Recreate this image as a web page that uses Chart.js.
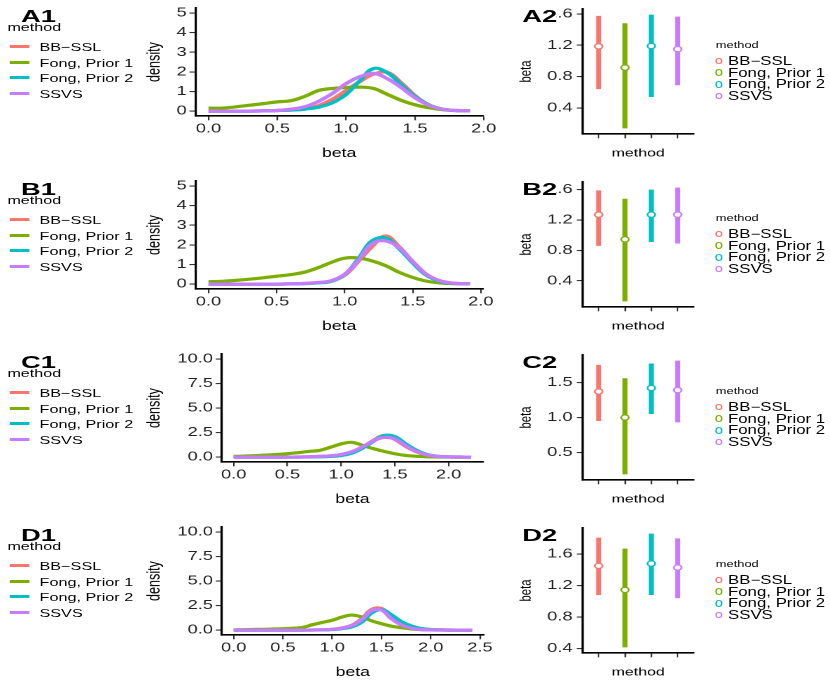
<!DOCTYPE html>
<html>
<head>
<meta charset="utf-8">
<script src="https://cdn.jsdelivr.net/npm/chart.js@4.4.0/dist/chart.umd.min.js"></script>
<style>
html, body { margin: 0; padding: 0; background: #fff; overflow: hidden; width: 830px; height: 692px; }
#fig { position: absolute; left: 0; top: 0; width: 593px; height: 692px; transform: scaleX(1.4); transform-origin: 0 0;
       font-family: "Liberation Sans", Arial, sans-serif; color: #000; }
#fig canvas, .txt, .mark { position: absolute; }
.txt { white-space: nowrap; }
.tag { transform: scaleX(1.15); transform-origin: 0 0; overflow: visible; }
</style>
</head>
<body>
<div id="fig"></div>
<script>
var S = 1.4;      // the figure is stretched sideways
var ROW = 173;
var COLORS = ['#F8766D', '#7CAE00', '#00BFC4', '#C77CFF'];
var methods = ['BB\u2212SSL', 'Fong, Prior 1', 'Fong, Prior 2', 'SSVS'];

// density curves, panel A1
var aBeta  = [0, 0.1, 0.2, 0.3, 0.4, 0.5, 0.6, 0.7, 0.8, 0.9, 1.0, 1.1, 1.2, 1.3, 1.4, 1.5, 1.6, 1.7, 1.8, 1.9];
var aBBSSL = [0, 0, 0, 0, 0.01, 0.03, 0.06, 0.1, 0.28, 0.6, 1.05, 1.5, 1.88, 1.97, 1.45, 0.8, 0.32, 0.1, 0.03, 0.01];
var aFong1 = [0.15, 0.15, 0.22, 0.3, 0.38, 0.47, 0.53, 0.75, 1.05, 1.15, 1.2, 1.22, 1.15, 0.85, 0.55, 0.32, 0.17, 0.07, 0.02, 0.01];
var aFong2 = [0, 0, 0, 0, 0.01, 0.03, 0.05, 0.1, 0.2, 0.42, 0.85, 1.55, 2.17, 1.95, 1.35, 0.75, 0.32, 0.1, 0.03, 0.01];
var aSSVS  = [0, 0, 0, 0, 0.01, 0.03, 0.1, 0.22, 0.5, 0.9, 1.4, 1.75, 1.92, 1.65, 1.2, 0.68, 0.3, 0.1, 0.03, 0.01];

// panel B1
var bBeta  = [0, 0.1, 0.2, 0.3, 0.4, 0.5, 0.6, 0.7, 0.8, 0.9, 1.0, 1.1, 1.2, 1.3, 1.4, 1.5, 1.6, 1.7, 1.8, 1.92];
var bBBSSL = [0, 0, 0, 0, 0, 0, 0.01, 0.03, 0.07, 0.15, 0.45, 1.15, 1.9, 2.45, 1.9, 1.15, 0.5, 0.16, 0.04, 0.01];
var bFong1 = [0.12, 0.14, 0.19, 0.25, 0.32, 0.4, 0.48, 0.6, 0.82, 1.1, 1.32, 1.33, 1.18, 0.94, 0.6, 0.34, 0.15, 0.06, 0.02, 0.01];
var bFong2 = [0, 0, 0, 0, 0, 0, 0.01, 0.02, 0.06, 0.14, 0.48, 1.28, 2.2, 2.35, 1.8, 1.08, 0.45, 0.14, 0.04, 0.01];
var bSSVS  = [0, 0, 0, 0, 0, 0, 0.01, 0.03, 0.08, 0.17, 0.5, 1.2, 2.05, 2.2, 1.85, 1.15, 0.5, 0.17, 0.05, 0.01];

// panel C1
var cBeta  = [0, 0.1, 0.2, 0.3, 0.4, 0.5, 0.6, 0.7, 0.8, 0.9, 1.0, 1.1, 1.2, 1.3, 1.4, 1.5, 1.6, 1.7, 1.8, 1.9, 2.0, 2.1, 2.21];
var cBBSSL = [0, 0, 0, 0, 0, 0, 0.01, 0.03, 0.06, 0.12, 0.25, 0.52, 1.0, 1.7, 2.2, 1.8, 1.1, 0.55, 0.22, 0.07, 0.02, 0.01, 0];
var cFong1 = [0.07, 0.1, 0.15, 0.2, 0.27, 0.34, 0.45, 0.58, 0.68, 1.0, 1.34, 1.5, 1.2, 0.86, 0.58, 0.34, 0.17, 0.08, 0.03, 0.01, 0, 0, 0];
var cFong2 = [0, 0, 0, 0, 0, 0, 0, 0.01, 0.03, 0.07, 0.16, 0.4, 0.9, 1.6, 2.2, 2.1, 1.35, 0.7, 0.26, 0.08, 0.02, 0.01, 0];
var cSSVS  = [0, 0, 0, 0, 0, 0, 0.01, 0.03, 0.07, 0.13, 0.26, 0.55, 1.05, 1.65, 2.0, 1.85, 1.15, 0.58, 0.22, 0.07, 0.02, 0.01, 0];

// panel D1
var dBeta  = [0, 0.1, 0.2, 0.3, 0.4, 0.5, 0.6, 0.7, 0.8, 0.9, 1.0, 1.1, 1.2, 1.3, 1.4, 1.5, 1.6, 1.7, 1.8, 1.9, 2.0, 2.1, 2.2, 2.3, 2.42];
var dBBSSL = [0, 0, 0, 0, 0, 0, 0, 0, 0.01, 0.03, 0.08, 0.22, 0.5, 1.15, 2.1, 2.2, 1.4, 0.78, 0.37, 0.14, 0.05, 0.02, 0.01, 0, 0];
var dFong1 = [0.03, 0.04, 0.06, 0.08, 0.11, 0.14, 0.19, 0.27, 0.55, 0.78, 1.0, 1.33, 1.53, 1.33, 0.95, 0.65, 0.4, 0.24, 0.12, 0.05, 0.02, 0.01, 0, 0, 0];
var dFong2 = [0, 0, 0, 0, 0, 0, 0, 0, 0.01, 0.02, 0.06, 0.15, 0.32, 0.8, 1.73, 2.1, 1.56, 0.88, 0.44, 0.17, 0.06, 0.02, 0.01, 0, 0];
var dSSVS  = [0, 0, 0, 0, 0, 0, 0, 0, 0.01, 0.03, 0.08, 0.2, 0.45, 1.05, 1.97, 2.05, 1.16, 0.54, 0.2, 0.06, 0.02, 0.01, 0, 0, 0];

// interval panels (A2..D2): lower end, point estimate, upper end per method
var aLow = [0.64, 0.14, 0.54, 0.69];
var aMid = [1.185, 0.915, 1.19, 1.15];
var aHigh = [1.575, 1.48, 1.59, 1.565];
var bLow = [0.86, 0.13, 0.91, 0.89];
var bMid = [1.27, 0.945, 1.27, 1.27];
var bHigh = [1.59, 1.48, 1.60, 1.625];
var cLow = [0.95, 0.19, 1.05, 0.93];
var cMid = [1.37, 1.0, 1.42, 1.39];
var cHigh = [1.75, 1.56, 1.77, 1.81];
var dLow = [1.08, 0.415, 1.08, 1.04];
var dMid = [1.45, 1.145, 1.48, 1.43];
var dHigh = [1.81, 1.67, 1.86, 1.80];

// tick values
var betaTicks2 = [0, 0.5, 1.0, 1.5, 2.0];
var betaTicks25 = [0, 0.5, 1.0, 1.5, 2.0, 2.5];
var densTicks5 = [0, 1, 2, 3, 4, 5];
var densTicks10 = [0, 2.5, 5, 7.5, 10];
var betaTicks04 = [0.4, 0.8, 1.2, 1.6];
var betaTicks05 = [0.5, 1.0, 1.5];

var fig = document.getElementById('fig');
Chart.defaults.font.family = '"Liberation Sans", Arial, sans-serif';

function addText(str, left, cy, size, bold) {
    var d = document.createElement('div');
    d.className = 'txt';
    d.textContent = str;
    d.style.left = left + 'px';
    d.style.top = (cy - size / 2) + 'px';
    d.style.fontSize = size + 'px';
    d.style.lineHeight = size + 'px';
    if (bold) d.style.fontWeight = 'bold';
    fig.appendChild(d);
    return d;
}

function addMark(css) {
    var m = document.createElement('div');
    m.className = 'mark';
    m.style.cssText = css;
    fig.appendChild(m);
}

function makeCanvas(left, top, w, h) {
    var cv = document.createElement('canvas');
    cv.width = w;
    cv.height = h;
    cv.style.left = left + 'px';
    cv.style.top = top + 'px';
    cv.style.width = w + 'px';
    cv.style.height = h + 'px';
    fig.appendChild(cv);
    return cv;
}

function fixed1(v) { return v.toFixed(1); }
function plain(v) { return String(v); }
function blank() { return ''; }

function axis(min, max, tickVals, fmt, size, title, titleSize, tickLen, pad) {
    return {
        type: 'linear', min: min, max: max, bounds: 'data',
        afterBuildTicks: function (s) {
            s.ticks = tickVals.map(function (v) { return {value: v}; });
        },
        afterFit: function (s) {
            if (s.isHorizontal()) s.height = size; else s.width = size;
            s.paddingTop = s.paddingBottom = s.paddingLeft = s.paddingRight = 0;
        },
        grid: {drawOnChartArea: false, tickLength: tickLen, color: '#333', lineWidth: 1.1},
        border: {display: true, color: '#000', width: 1.6},
        ticks: {autoSkip: false, maxRotation: 0, minRotation: 0, padding: pad, color: '#222',
                font: {size: 13}, callback: fmt},
        title: {display: true, text: title, color: '#000', font: {size: titleSize}, padding: 0}
    };
}

function densityChart(top, xs, curves, yMax, yTicks, yFmt, xTicks, yWidth, padRight) {
    var cv = makeCanvas(103, top, 254, 161);
    var xHi = xs[xs.length - 1];
    new Chart(cv, {
        type: 'line',
        data: {
            datasets: curves.map(function (ys, i) {
                return {
                    label: methods[i],
                    data: xs.map(function (x, j) { return {x: x, y: ys[j]}; }),
                    borderColor: COLORS[i],
                    borderWidth: 3.2,
                    pointRadius: 0,
                    tension: 0.4,
                    order: curves.length - i
                };
            })
        },
        options: {
            responsive: false, animation: false, devicePixelRatio: 2,
            layout: {padding: {left: 0, top: 8, right: padRight, bottom: 0}},
            plugins: {legend: {display: false}, tooltip: {enabled: false}},
            scales: {
                x: axis(-0.05 * xHi, xHi * 1.05, xTicks, fixed1, 45, 'beta', 12.6, 4.3, 1),
                y: axis(-0.05 * yMax, yMax * 1.05, yTicks, yFmt, yWidth, 'density', 12.6, 4.3, 2)
            }
        }
    });
}

function intervalChart(top, lo, mid, hi, yTicks) {
    var cv = makeCanvas(369.4, top, 134.2, 160);
    var yLo = Math.min.apply(null, lo);
    var yHi = Math.max.apply(null, hi);
    var pad = 0.05 * (yHi - yLo);
    var sets = methods.map(function (m, i) {
        return {
            label: m,
            data: [{x: i + 1, y: lo[i]}, {x: i + 1, y: hi[i]}],
            borderColor: COLORS[i],
            borderWidth: 3.6,
            borderCapStyle: 'butt',
            pointRadius: 0
        };
    });
    sets.push({
        label: 'estimate',
        data: mid.map(function (v, i) { return {x: i + 1, y: v}; }),
        showLine: false,
        pointRadius: 2.7,
        pointBorderWidth: 1.3,
        pointBackgroundColor: '#fff',
        pointBorderColor: COLORS,
        order: -1
    });
    new Chart(cv, {
        type: 'line',
        data: {datasets: sets},
        options: {
            responsive: false, animation: false, devicePixelRatio: 2,
            layout: {padding: {left: 0, top: 9, right: 8.6, bottom: 0}},
            plugins: {legend: {display: false}, tooltip: {enabled: false}},
            scales: {
                x: axis(0.4, 4.6, [1, 2, 3, 4], blank, 26, 'method', 11.3, 4.3, 1),
                y: axis(yLo - pad, yHi + pad, yTicks, fixed1, 47, 'beta', 11.3, 4.3, 3)
            }
        }
    });
}

function leftLegend(top) {
    addText('method', 5.3, top + 28, 11.5);
    methods.forEach(function (m, i) {
        var cy = top + 46.8 + 15.5 * i;
        addMark('left:7.1px;width:14px;height:3px;top:' + (cy - 1.5) + 'px;background:' + COLORS[i]);
        addText(m, 28.2, cy, 11.6);
    });
}

function rightLegend(top) {
    addText('method', 511.3, top + 46, 9.2);
    methods.forEach(function (m, i) {
        var cy = top + 61 + 11.67 * i;
        addMark('left:510.6px;width:5px;height:6.6px;box-sizing:border-box;border-radius:50%;' +
                'border:1.2px solid ' + COLORS[i] + ';top:' + (cy - 3.3) + 'px');
        addText(m, 520, cy, 12);
    });
}

function panelTag(str, left, top, boxed) {
    var t = addText(str, left, top + 16.2, 17, true);
    t.className = 'txt tag';
    if (boxed) {
        // the tag sits over the top tick label of the interval panel
        t.style.background = '#fff';
        t.style.width = '21px';
    }
}

var rows = [
    {key: 'A', xs: aBeta, curves: [aBBSSL, aFong1, aFong2, aSSVS], yMax: 5, yTicks: densTicks5, yFmt: plain,
     xTicks: betaTicks2, yWidth: 36.6, padRight: 12, lo: aLow, mid: aMid, hi: aHigh, t2: betaTicks04},
    {key: 'B', xs: bBeta, curves: [bBBSSL, bFong1, bFong2, bSSVS], yMax: 5, yTicks: densTicks5, yFmt: plain,
     xTicks: betaTicks2, yWidth: 36.6, padRight: 12, lo: bLow, mid: bMid, hi: bHigh, t2: betaTicks04},
    {key: 'C', xs: cBeta, curves: [cBBSSL, cFong1, cFong2, cSSVS], yMax: 10, yTicks: densTicks10, yFmt: fixed1,
     xTicks: betaTicks2, yWidth: 55.4, padRight: 12, lo: cLow, mid: cMid, hi: cHigh, t2: betaTicks05},
    {key: 'D', xs: dBeta, curves: [dBBSSL, dFong1, dFong2, dSSVS], yMax: 10, yTicks: densTicks10, yFmt: fixed1,
     xTicks: betaTicks25, yWidth: 55.4, padRight: 11.3, lo: dLow, mid: dMid, hi: dHigh, t2: betaTicks04}
];

rows.forEach(function (r, k) {
    var top = k * ROW;
    densityChart(top, r.xs, r.curves, r.yMax, r.yTicks, r.yFmt, r.xTicks, r.yWidth, r.padRight);
    intervalChart(top, r.lo, r.mid, r.hi, r.t2);
    leftLegend(top);
    rightLegend(top);
    panelTag(r.key + '1', 14.8, top, false);
    panelTag(r.key + '2', 372.6, top, true);
});
</script>
</body>
</html>
